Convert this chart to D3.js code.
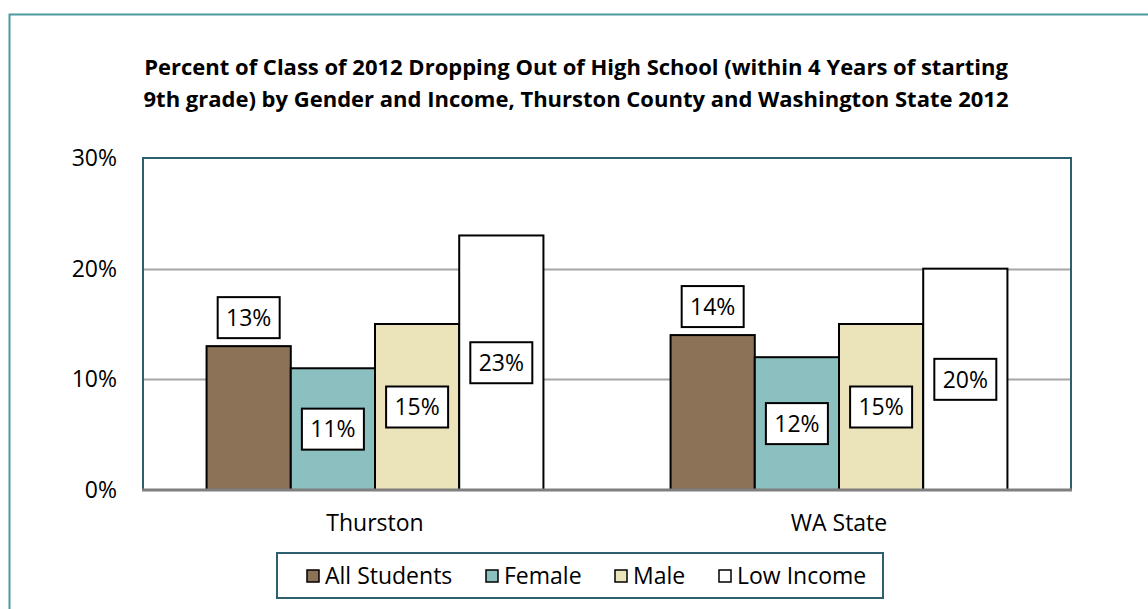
<!DOCTYPE html>
<html lang="en">
<head>
<meta charset="UTF-8">
<title>Dropout chart</title>
<script src="https://cdn.jsdelivr.net/npm/d3@7"></script>
<style>
    body { margin: 0; background: #fff; }
    text { font-family: "Open Sans", sans-serif; fill: #000; }
</style>
</head>
<body>
<script>
    // data
    var categories = ['Thurston', 'WA State']
    var seriesNames = ['All Students', 'Female', 'Male', 'Low Income']
    var allStudents = [13, 14]
    var female = [11, 12]
    var male = [15, 15]
    var lowIncome = [23, 20]
    var yTicks = [0, 10, 20, 30]
    var titleLines = [
        'Percent of Class of 2012 Dropping Out of High School (within 4 Years of starting',
        '9th grade) by Gender and Income, Thurston County and Washington State 2012'
    ]

    var seriesValues = [allStudents, female, male, lowIncome]
    var colors = ['#8c7257', '#8bbfc0', '#ebe3b9', '#ffffff']
    var labelPos = ['above', 'center', 'center', 'center']

    var width = 1148, height = 609
    var plot = {left: 143, right: 1071, top: 158, bottom: 490}

    var svg = d3.select('body').append('svg')
        .attr('width', width)
        .attr('height', height)

    // outer frame
    svg.append('path')
        .attr('d', `M9.5,${height} L9.5,14.5 L${width},14.5`)
        .attr('fill', 'none')
        .attr('stroke', '#4f9a9e')
        .attr('stroke-width', 2)

    // title
    svg.append('text')
        .attr('x', 576)
        .attr('y', 75)
        .attr('text-anchor', 'middle')
        .style('font-weight', 'bold')
        .style('font-size', '22px')
        .selectAll('tspan')
        .data(titleLines)
        .enter()
        .append('tspan')
        .attr('x', 576)
        .attr('dy', (d, i) => i == 0 ? 0 : 32)
        .text(d => d)

    var x0 = d3.scaleBand()
        .domain(categories)
        .range([plot.left, plot.right])
        .paddingInner(0.274)
        .paddingOuter(0.137)
    var x1 = d3.scaleBand()
        .domain(seriesNames)
        .range([0, x0.bandwidth()])
    var y = d3.scaleLinear()
        .domain([0, 30])
        .range([plot.bottom, plot.top])

    // gridlines
    svg.append('g')
        .selectAll('line')
        .data(yTicks.filter(d => d > 0 && d < 30))
        .enter()
        .append('line')
        .attr('x1', plot.left)
        .attr('x2', plot.right)
        .attr('y1', d => Math.round(y(d)) + 0.5)
        .attr('y2', d => Math.round(y(d)) + 0.5)
        .attr('stroke', '#a6a6a6')
        .attr('stroke-width', 2)

    // y axis labels
    var yAxis = d3.axisLeft(y)
        .tickValues(yTicks)
        .tickFormat(d => d + '%')
        .tickSize(0)
        .tickPadding(26)
    var gy = svg.append('g')
        .attr('transform', `translate(${plot.left}, 0)`)
        .attr('font-size', 23)
        .attr('font-family', '"Open Sans", sans-serif')
        .call(yAxis)
    gy.select('.domain').remove()
    gy.selectAll('text')
        .style('font-size', '23px')
        .attr('fill', '#000')

    // bars
    var groups = svg.append('g')
        .selectAll('g')
        .data(categories)
        .enter()
        .append('g')
        .attr('transform', d => `translate(${x0(d)}, 0)`)

    groups.selectAll('rect')
        .data((c, ci) => seriesNames.map((s, si) => ({s: s, si: si, v: seriesValues[si][ci]})))
        .enter()
        .append('rect')
        .attr('x', d => x1(d.s))
        .attr('y', d => y(d.v))
        .attr('width', x1.bandwidth())
        .attr('height', d => y(0) - y(d.v))
        .attr('fill', d => colors[d.si])
        .attr('stroke', '#000')
        .attr('stroke-width', 2)

    // plot frame
    svg.append('path')
        .attr('d', `M${plot.left},${plot.bottom} L${plot.left},${plot.top} L${plot.right},${plot.top} L${plot.right},${plot.bottom}`)
        .attr('fill', 'none')
        .attr('stroke', '#2e5f6e')
        .attr('stroke-width', 2)
    svg.append('line')
        .attr('x1', plot.left - 1)
        .attr('x2', plot.right + 1)
        .attr('y1', plot.bottom)
        .attr('y2', plot.bottom)
        .attr('stroke', '#7f7f7f')
        .attr('stroke-width', 3)

    // data labels
    var boxW = 62, boxH = 41
    var labels = groups.selectAll('g.lab')
        .data((c, ci) => seriesNames.map((s, si) => ({s: s, si: si, v: seriesValues[si][ci]})))
        .enter()
        .append('g')
        .attr('class', 'lab')
        .attr('transform', d => {
            var cx = x1(d.s) + x1.bandwidth() / 2
            var cy = labelPos[d.si] == 'above'
                ? y(d.v) - 8 - boxH / 2
                : (y(d.v) + y(0)) / 2
            return `translate(${cx}, ${cy})`
        })
    labels.append('rect')
        .attr('x', -boxW / 2)
        .attr('y', -boxH / 2)
        .attr('width', boxW)
        .attr('height', boxH)
        .attr('fill', '#fff')
        .attr('stroke', '#000')
        .attr('stroke-width', 2)
    labels.append('text')
        .attr('text-anchor', 'middle')
        .attr('dy', '0.36em')
        .style('font-size', '23px')
        .text(d => d.v + '%')

    // x labels
    svg.append('g')
        .selectAll('text')
        .data(categories)
        .enter()
        .append('text')
        .attr('x', d => x0(d) + x0.bandwidth() / 2)
        .attr('y', 531)
        .attr('text-anchor', 'middle')
        .style('font-size', '23px')
        .text(d => d)

    // legend
    var legend = svg.append('g')
    legend.append('rect')
        .attr('x', 277)
        .attr('y', 553)
        .attr('width', 606)
        .attr('height', 45)
        .attr('fill', '#fff')
        .attr('stroke', '#2e5f6e')
        .attr('stroke-width', 2)
    var legendX = [307, 486, 615, 719]
    var items = legend.selectAll('g.item')
        .data(seriesNames)
        .enter()
        .append('g')
        .attr('class', 'item')
        .attr('transform', (d, i) => `translate(${legendX[i]}, 576)`)
    items.append('rect')
        .attr('x', 0)
        .attr('y', -6)
        .attr('width', 12)
        .attr('height', 12)
        .attr('fill', (d, i) => colors[i])
        .attr('stroke', '#000')
        .attr('stroke-width', 1.5)
    items.append('text')
        .attr('x', 18)
        .attr('dy', '0.36em')
        .style('font-size', '23px')
        .text(d => d)
</script>
</body>
</html>
